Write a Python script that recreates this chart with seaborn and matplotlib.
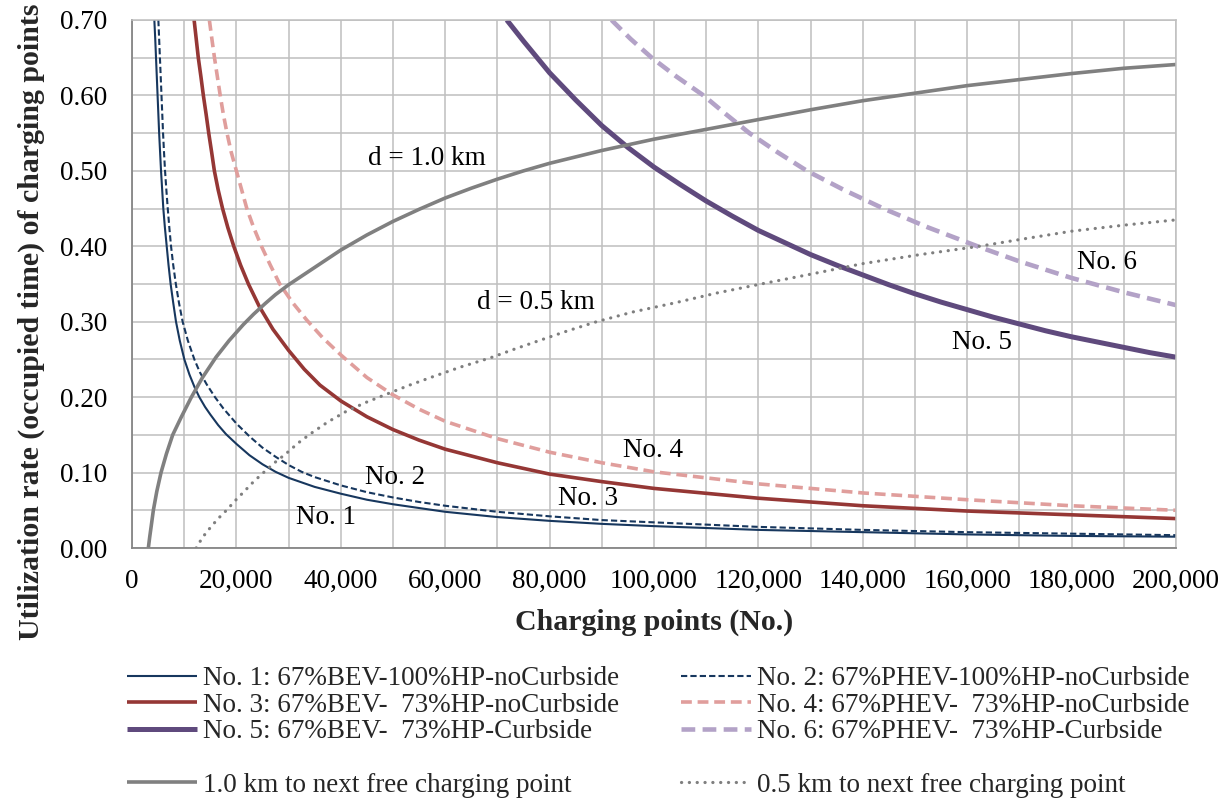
import numpy as np
import matplotlib
matplotlib.use('Agg')
import matplotlib.pyplot as plt
from matplotlib.lines import Line2D
from matplotlib.ticker import MultipleLocator, FuncFormatter
import pandas as pd
import seaborn as sns

# values (x = charging points, y = utilization rate)
no1_x = [4280, 4450, 4600, 4750, 4900, 5050, 5200, 5380, 5560, 5780, 6000, 6300, 6650, 7000,
         7400, 7900, 8430, 9150, 10030, 11000, 12000, 12900, 14000, 15000, 16500, 18000, 20000,
         22500, 25000, 27500, 30000, 35000, 40000, 45000, 50000, 55000, 60000, 70000, 80000,
         90000, 100000, 120000, 140000, 160000, 180000, 200000]
no1_y = [0.70, 0.675, 0.65, 0.625, 0.60, 0.575, 0.55, 0.525, 0.50, 0.475, 0.45, 0.425, 0.40, 0.375,
         0.35, 0.325, 0.30, 0.275, 0.25, 0.23, 0.213, 0.20, 0.187, 0.177, 0.163, 0.151, 0.138,
         0.123, 0.111, 0.101, 0.093, 0.081, 0.072, 0.064, 0.058, 0.053, 0.048, 0.041, 0.036,
         0.032, 0.029, 0.024, 0.021, 0.018, 0.016, 0.015]

no2_x = [5050, 5200, 5350, 5500, 5650, 5800, 5950, 6130, 6330, 6580, 6850, 7150, 7480, 7900,
         8400, 9000, 9700, 10700, 11950, 13000, 14300, 15900, 17500, 20000, 22500, 25000, 27500,
         30000, 32500, 35000, 40000, 45000, 50000, 55000, 60000, 70000, 80000, 90000, 100000,
         120000, 140000, 160000, 180000, 200000]
no2_y = [0.70, 0.675, 0.65, 0.625, 0.60, 0.575, 0.55, 0.525, 0.50, 0.475, 0.45, 0.425, 0.40, 0.375,
         0.35, 0.325, 0.30, 0.275, 0.25, 0.233, 0.217, 0.20, 0.185, 0.165, 0.148, 0.133, 0.121,
         0.110, 0.101, 0.094, 0.083, 0.074, 0.067, 0.061, 0.056, 0.048, 0.042, 0.037, 0.034,
         0.028, 0.024, 0.021, 0.019, 0.017]

no3_x = [11900, 12300, 12700, 13200, 13670, 14200, 14700, 15250, 15780, 16500, 17350, 18350,
         19500, 20800, 22300, 24400, 27000, 30000, 33000, 36000, 40000, 45000, 50000, 55000,
         60000, 70000, 80000, 90000, 100000, 120000, 140000, 160000, 180000, 200000]
no3_y = [0.70, 0.675, 0.65, 0.625, 0.60, 0.575, 0.55, 0.525, 0.50, 0.475, 0.45, 0.425,
         0.40, 0.375, 0.35, 0.32, 0.29, 0.262, 0.237, 0.216, 0.195, 0.174, 0.157, 0.143,
         0.131, 0.113, 0.098, 0.088, 0.079, 0.066, 0.056, 0.049, 0.044, 0.039]

no4_x = [14820, 15300, 15800, 16350, 16900, 17500, 18200, 19000, 20000, 21000, 22000, 23300,
         24800, 26500, 28300, 30800, 33500, 36500, 40000, 45000, 50000, 55000, 60000, 70000,
         80000, 90000, 100000, 120000, 140000, 160000, 180000, 200000]
no4_y = [0.70, 0.675, 0.65, 0.625, 0.60, 0.575, 0.55, 0.525, 0.50, 0.475, 0.45, 0.425,
         0.40, 0.375, 0.35, 0.325, 0.302, 0.279, 0.256, 0.226, 0.203, 0.184, 0.168, 0.145,
         0.127, 0.113, 0.101, 0.085, 0.073, 0.064, 0.056, 0.050]

no5_x = [71800, 75000, 80000, 85000, 90000, 95000, 100000, 105000, 110000, 115000, 120000,
         125000, 130000, 135000, 140000, 145000, 150000, 155000, 160000, 165000, 170000,
         175000, 180000, 185000, 190000, 195000, 200000]
no5_y = [0.70, 0.672, 0.63, 0.594, 0.56, 0.531, 0.505, 0.482, 0.46, 0.44, 0.421,
         0.405, 0.389, 0.375, 0.362, 0.349, 0.337, 0.326, 0.316, 0.306, 0.297,
         0.288, 0.28, 0.273, 0.266, 0.259, 0.253]

no6_x = [91860, 95500, 99560, 104300, 109470, 113800, 118280, 123600, 129290, 136300, 143960,
         152500, 161960, 170000, 180000, 190000, 200000]
no6_y = [0.70, 0.675, 0.65, 0.625, 0.60, 0.575, 0.55, 0.525, 0.50, 0.475, 0.45,
         0.425, 0.40, 0.38, 0.358, 0.339, 0.322]

d10_x = [3130, 3400, 3700, 4090, 4750, 5560, 6600, 7800, 9400, 11300, 13500, 16100, 18600, 21300,
         23300, 25500, 27500, 30000, 35000, 40000, 45000, 50000, 55000, 60000, 65000, 70000,
         75000, 80000, 90000, 100000, 110000, 120000, 130000, 140000, 150000, 160000, 170000,
         180000, 190000, 200000]
d10_y = [0.00, 0.015, 0.03, 0.05, 0.075, 0.10, 0.125, 0.15, 0.173, 0.199, 0.226, 0.253, 0.275, 0.296,
         0.310, 0.324, 0.336, 0.349, 0.372, 0.395, 0.415, 0.433, 0.449, 0.464, 0.477, 0.489,
         0.50, 0.51, 0.527, 0.542, 0.555, 0.568, 0.581, 0.593, 0.603, 0.613, 0.621,
         0.629, 0.636, 0.641]

d05_x = [12300, 13500, 15000, 16500, 18100, 19800, 21500, 23300, 25200, 27300, 29500, 31800,
         34100, 37500, 41000, 44800, 48800, 53200, 58000, 63000, 68600, 73000, 78000, 83500,
         89000, 96000, 104000, 112000, 120500, 130000, 140000, 151000, 162300, 171000, 180000,
         190000, 200000]
d05_y = [0.00, 0.014, 0.027, 0.039, 0.05, 0.063, 0.075, 0.088, 0.10, 0.113, 0.125, 0.139,
         0.151, 0.167, 0.181, 0.193, 0.204, 0.216, 0.228, 0.240, 0.252, 0.263, 0.275, 0.288,
         0.30, 0.313, 0.325, 0.338, 0.35, 0.363, 0.377, 0.389, 0.40, 0.41, 0.42,
         0.428, 0.435]

series = [
    ('No. 1: 67%BEV-100%HP-noCurbside', no1_x, no1_y, '#17375E', 1.5, '-'),
    ('No. 2: 67%PHEV-100%HP-noCurbside', no2_x, no2_y, '#17375E', 1.5, (0, (3, 1.5))),
    ('No. 3: 67%BEV-  73%HP-noCurbside', no3_x, no3_y, '#953735', 2.6, '-'),
    ('No. 4: 67%PHEV-  73%HP-noCurbside', no4_x, no4_y, '#E09E9C', 2.6, (0, (3, 1.6))),
    ('No. 5: 67%BEV-  73%HP-Curbside', no5_x, no5_y, '#5F4A7D', 3.6, '-'),
    ('No. 6: 67%PHEV-  73%HP-Curbside', no6_x, no6_y, '#B3A2C7', 3.3, (0, (3, 1.6))),
    ('1.0 km to next free charging point', d10_x, d10_y, '#808080', 2.6, '-'),
    ('0.5 km to next free charging point', d05_x, d05_y, '#7F7F7F', 2.3, (0, (0.05, 2.4))),
]

curve_labels = [('d = 1.0 km', 56500, 0.517), ('d = 0.5 km', 77400, 0.325),
                 ('No. 1', 37200, 0.040), ('No. 2', 50400, 0.094),
                 ('No. 3', 87300, 0.065), ('No. 4', 99800, 0.129),
                 ('No. 5', 162800, 0.272), ('No. 6', 186800, 0.379)]

sns.set_style("white")
plt.rcParams['font.family'] = ['Liberation Serif', 'DejaVu Serif']

fig, ax = plt.subplots(figsize=(12.28, 7.99), dpi=100)
fig.subplots_adjust(left=132/1228, right=1176/1228, top=1-20/799, bottom=1-548/799)

for name, xs, ys, col, lw, ls in series:
    df = pd.DataFrame({'x': xs, 'y': ys})
    sns.lineplot(data=df, x='x', y='y', ax=ax, color=col, linewidth=lw, linestyle=ls,
                 label=name, legend=False,
                 dash_capstyle='round' if name.startswith('0.5') else 'butt',
                 solid_capstyle='butt', solid_joinstyle='round')

for txt, x, y in curve_labels:
    ax.text(x, y, txt, ha='center', va='center', fontsize=19.5, color='black')

ax.set_xlim(0, 200000)
ax.set_ylim(0, 0.70)
ax.xaxis.set_major_locator(MultipleLocator(20000))
ax.xaxis.set_minor_locator(MultipleLocator(10000))
ax.yaxis.set_major_locator(MultipleLocator(0.10))
ax.yaxis.set_minor_locator(MultipleLocator(0.05))
ax.xaxis.set_major_formatter(FuncFormatter(lambda v, p: '{:,.0f}'.format(v)))
ax.yaxis.set_major_formatter(FuncFormatter(lambda v, p: '{:.2f}'.format(v)))
ax.grid(which='both', color='#BFBFBF', linewidth=1.1)
ax.set_axisbelow(True)
ax.tick_params(axis='both', which='major', labelsize=19.5, colors='#868686', labelcolor='black',
               direction='out', width=1.1)
ax.tick_params(axis='x', which='major', length=6, pad=9)
ax.tick_params(axis='y', which='major', length=6, pad=12)
ax.tick_params(which='minor', length=0)
for s in ['left', 'bottom']:
    ax.spines[s].set_color('#868686')
    ax.spines[s].set_linewidth(1.3)
for s in ['top', 'right']:
    ax.spines[s].set_color('#BFBFBF')
    ax.spines[s].set_linewidth(1.1)

ax.set_xlabel('Charging points (No.)', fontsize=21.5, fontweight='bold', labelpad=11)
ax.set_ylabel('Utilization rate (occupied time) of charging points', fontsize=21.5,
              fontweight='bold')
ax.yaxis.set_label_coords(-0.083, 0.428)

handles, labels = ax.get_legend_handles_labels()
blank = Line2D([], [], linestyle='none')
order_h = [handles[0], handles[2], handles[4], blank, handles[6],
           handles[1], handles[3], handles[5], blank, handles[7]]
order_l = [labels[0], labels[2], labels[4], '', labels[6],
           labels[1], labels[3], labels[5], '', labels[7]]
fig.legend(order_h, order_l, loc='upper left', bbox_to_anchor=(127/1228, 1-666/799),
           ncol=2, frameon=False, fontsize=19.5, handlelength=2.6, handletextpad=0.2,
           labelspacing=0.06, columnspacing=2.28, borderpad=0, borderaxespad=0)

fig.savefig('out.png', dpi=100, facecolor='white')
